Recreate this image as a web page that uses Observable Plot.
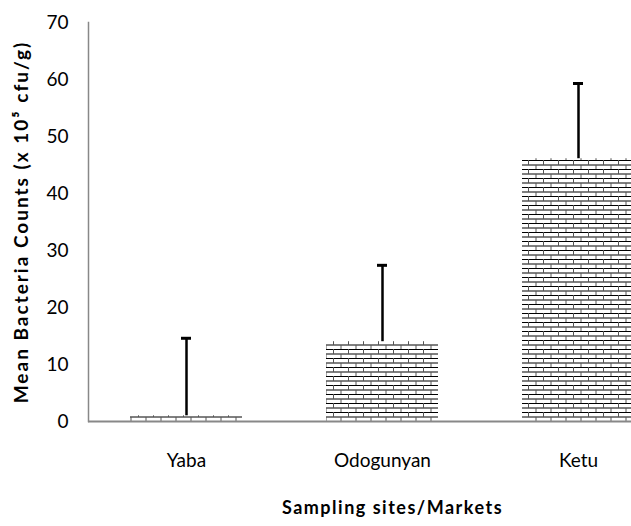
<!DOCTYPE html>
<html>
<head>
<meta charset="utf-8">
<script src="https://cdn.jsdelivr.net/npm/d3@7"></script>
<script src="https://cdn.jsdelivr.net/npm/@observablehq/plot@0.6"></script>
<style>
  html, body { margin: 0; padding: 0; background: white; overflow: hidden; }
  #chart svg { overflow: hidden; }
</style>
</head>
<body>
<div id="chart"></div>
<script>
const sites = ["Yaba", "Odogunyan", "Ketu"];
const means = [1.0, 14.0, 46.1];
const errors = [13.6, 13.4, 13.2];
const yTicks = [0, 10, 20, 30, 40, 50, 60, 70];
const yTitle = "Mean Bacteria Counts (x 10\u2075 cfu/g)";
const xTitle = "Sampling sites/Markets";

const data = sites.map((s, i) => ({site: s, mean: means[i], top: means[i] + errors[i]}));
const font = "Lato, 'Open Sans', sans-serif";

const svg = Plot.plot({
  width: 631,
  height: 526,
  marginLeft: 88,
  marginRight: -45,
  marginTop: 22,
  marginBottom: 105,
  style: {fontFamily: font, fontSize: "19px", color: "black", background: "white"},
  x: {domain: sites, paddingInner: 0.43, paddingOuter: 0.215, label: null},
  y: {domain: [0, 70], label: null},
  marks: [
    Plot.barY(data, {x: "site", y: "mean", fill: "url(#brick)"}),
    Plot.ruleX(data, {x: "site", y1: "mean", y2: "top", stroke: "black", strokeWidth: 2.5}),
    Plot.tickY(data, {x: "site", y: "top", stroke: "black", strokeWidth: 3, insetLeft: 51, insetRight: 51}),
    Plot.frame({anchor: "left", stroke: "#888", strokeWidth: 1.5}),
    Plot.ruleY([0], {stroke: "#888", strokeWidth: 2}),
    Plot.axisY({ticks: yTicks, tickSize: 0, tickPadding: 20, label: null, fontSize: 19}),
    Plot.axisX({tickSize: 0, tickPadding: 32, label: null, fontSize: 19}),
    Plot.text([yTitle], {frameAnchor: "left", dx: -67, rotate: -90, textAnchor: "middle", fontWeight: "bold", fontSize: 19}),
    Plot.text([xTitle], {frameAnchor: "bottom", dx: 10, dy: 92, fontWeight: "bold", fontSize: 18})
  ]
});

d3.select(svg).selectAll("text").each(function() {
  const t = this.textContent;
  if (t === yTitle) d3.select(this).style("letter-spacing", "2px");
  if (t === xTitle) d3.select(this).style("letter-spacing", "1.5px");
});

d3.select(svg).insert("defs", ":first-child").html(`
  <pattern id="brick" patternUnits="userSpaceOnUse" width="15" height="9" x="0" y="421">
    <rect width="15" height="9" fill="white"/>
    <line x1="0" y1="0.5" x2="15" y2="0.5" stroke="black" stroke-width="1"/>
    <line x1="0" y1="5" x2="15" y2="5" stroke="black" stroke-width="1"/>
    <line x1="3.5" y1="0" x2="3.5" y2="5" stroke="#555" stroke-width="1"/>
    <line x1="11" y1="5" x2="11" y2="9" stroke="#555" stroke-width="1"/>
  </pattern>`);

document.getElementById("chart").appendChild(svg);
</script>
</body>
</html>
